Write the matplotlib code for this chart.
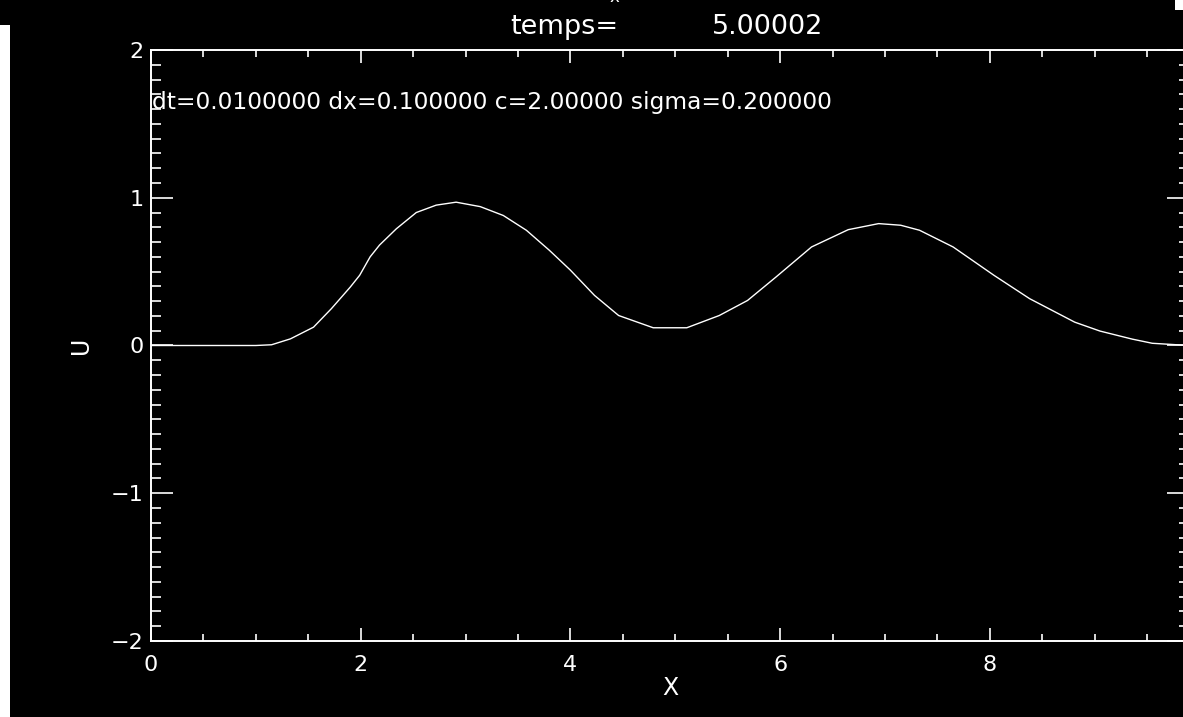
"""IDL-style snapshot of the advected wave u(x) at t = 5."""
import matplotlib
matplotlib.use("Agg")
import matplotlib.pyplot as plt
from matplotlib.patches import Rectangle
from matplotlib.ticker import MultipleLocator

plt.rcParams["text.parse_math"] = False

x_vals = [0.0, 1.0, 1.15, 1.33, 1.55, 1.72, 1.90, 1.99, 2.09, 2.18, 2.34, 2.53,
          2.72, 2.91, 3.14, 3.36, 3.58, 3.80, 4.00, 4.23, 4.46, 4.79, 5.11, 5.42,
          5.69, 5.96, 6.30, 6.65, 6.94, 7.15, 7.33, 7.65, 8.04, 8.38, 8.81, 9.05,
          9.36, 9.55, 9.90]
u_vals = [0.0, 0.0, 0.005, 0.045, 0.124, 0.249, 0.395, 0.475, 0.60, 0.68, 0.79, 0.90,
          0.95, 0.97, 0.94, 0.88, 0.78, 0.644, 0.51, 0.339, 0.203, 0.12, 0.12, 0.203,
          0.305, 0.463, 0.667, 0.784, 0.825, 0.814, 0.78, 0.667, 0.475, 0.317, 0.158, 0.098,
          0.043, 0.015, 0.0]
x_ticks = [0, 2, 4, 6, 8]
y_ticks = [-2, -1, 0, 1, 2]
time_label = "5.00002"
params_label = "dt=0.0100000 dx=0.100000 c=2.00000 sigma=0.200000"

W, H = 1183, 717


def fx(px):
    return px / W


def fy(py):
    return 1 - py / H


def main():
    fig = plt.figure(figsize=(W / 100, H / 100), dpi=100, facecolor="black")

    # screenshot leftovers: white strip on the left, white corner top right
    fig.patches.append(Rectangle((0, 0), fx(10), fy(25), transform=fig.transFigure,
                                 facecolor="white", edgecolor="none"))
    fig.patches.append(Rectangle((fx(1175), fy(10)), fx(8), 10 / H,
                                 transform=fig.transFigure,
                                 facecolor="white", edgecolor="none"))

    # plot box: x 151..1189 px, y 50..641 px (right edge falls off the image)
    ax = fig.add_axes([fx(151), fy(641), (1189 - 151) / W, (641 - 50) / H])
    ax.set_facecolor("black")
    ax.plot(x_vals, u_vals, color="white", linewidth=1.0)

    ax.set_xlim(0, 9.9)
    ax.set_ylim(-2, 2)
    ax.set_xticks(x_ticks)
    ax.set_yticks(y_ticks)
    ax.set_yticklabels([str(v).replace("-", "\u2212") for v in y_ticks])
    ax.xaxis.set_minor_locator(MultipleLocator(0.5))
    ax.yaxis.set_minor_locator(MultipleLocator(0.1))

    for s in ax.spines.values():
        s.set_color("white")
        s.set_linewidth(1.4)
    ax.tick_params(which="both", direction="in", top=True, right=True,
                   color="white", labelcolor="white", width=1.2, labelsize=16)
    ax.tick_params(axis="x", which="major", length=9.5, pad=10)
    ax.tick_params(axis="x", which="minor", length=5)
    ax.tick_params(axis="y", which="major", length=16, pad=5.5)
    ax.tick_params(axis="y", which="minor", length=7.2)

    ax.set_xlabel("X", color="white", fontsize=17, va="center")
    ax.xaxis.set_label_coords(0.5, -(688 - 641) / 591)
    ax.set_ylabel("U", color="white", fontsize=17, va="center")
    ax.yaxis.set_label_coords(-(151 - 81) / 1038, 0.5)

    # title line and run parameters
    fig.text(fx(618), fy(27), "temps=", color="white", fontsize=19.5,
             ha="right", va="center")
    fig.text(fx(712), fy(27), time_label, color="white", fontsize=19.5,
             ha="left", va="center")
    fig.text(fx(614), fy(-3), "x", color="white", fontsize=12,
             ha="center", va="center")
    fig.text(fx(152), fy(103), params_label, color="white", fontsize=16.8,
             ha="left", va="center")

    fig.savefig("out.png", dpi=100, facecolor="black")


if __name__ == "__main__":
    main()
